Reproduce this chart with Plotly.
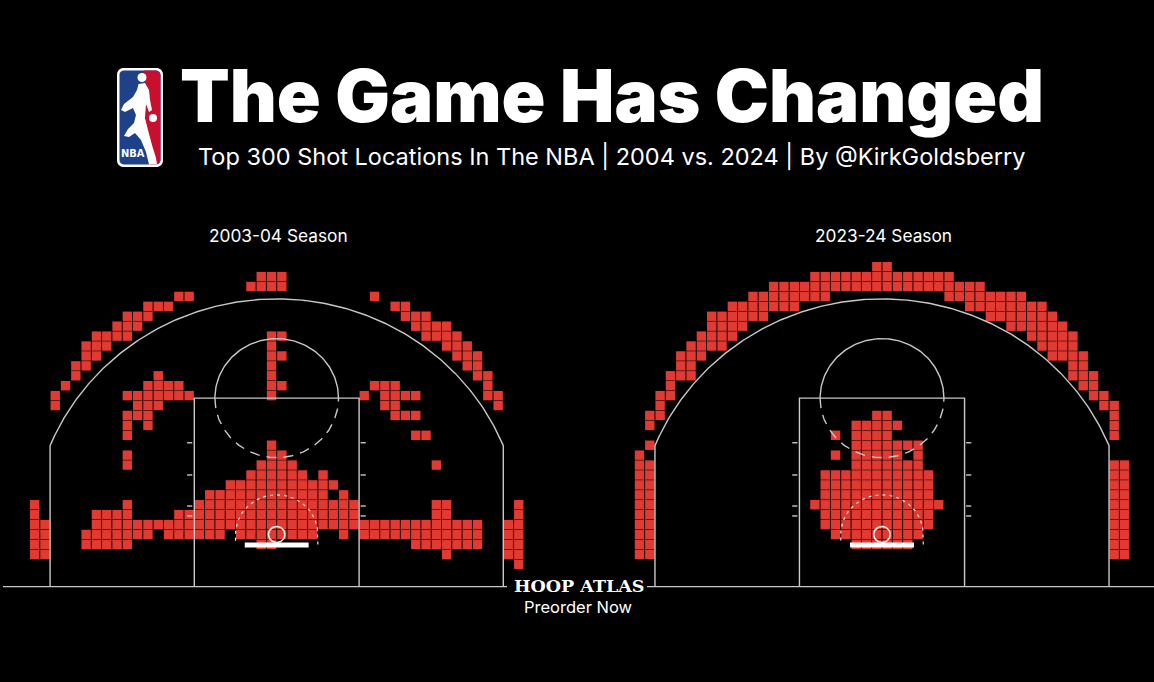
import numpy as np
import plotly.graph_objects as go

W, H = 1154, 682

title_text = "The Game Has Changed"
subtitle_text = "Top 300 Shot Locations In The NBA | 2004 vs. 2024 | By @KirkGoldsberry"
season_labels = ["2003-04 Season", "2023-24 Season"]

# Shot-location bins, 1 ft squares.  Each run: (row ft from hoop, first column bin, last column bin);
# column bin m spans [m, m+1] ft from the hoop (left negative).
runs_2004 = [
    (26, -2, 0), (25, -3, 0),
    (24, -10, -9), (23, -13, -11), (22, -15, -13), (21, -16, -14), (20, -18, -15),
    (19, -19, -17), (18, -19, -18), (17, -20, -19), (16, -20, -20), (15, -21, -21),
    (14, -22, -22), (13, -22, -22),
    (24, 9, 9), (23, 11, 12), (22, 12, 14), (21, 13, 16), (20, 14, 17), (19, 16, 18),
    (18, 17, 19), (17, 18, 19), (16, 19, 20), (15, 20, 20), (14, 20, 21), (13, 21, 21),
    (20, -1, 0), (19, -1, -1), (18, -1, 0), (17, -1, -1), (16, -1, -1), (15, -1, 0), (14, -1, -1),
    (16, -12, -12), (15, -13, -10), (14, -15, -9), (13, -14, -12), (12, -15, -13),
    (11, -15, -15), (11, -13, -13), (10, -15, -15), (8, -15, -15), (7, -15, -15),
    (15, 9, 11), (14, 8, 8), (14, 10, 13), (13, 10, 11), (12, 11, 13), (10, 13, 14), (7, 15, 15),
    (3, -24, -24), (2, -24, -24), (1, -24, -23), (0, -24, -23), (-1, -24, -23), (-2, -24, -23),
    (3, 23, 23), (2, 23, 23), (1, 22, 23), (0, 22, 23), (-1, 22, 23), (-2, 22, 23), (-3, 23, 23),
    (9, -1, -1), (8, -1, 0), (7, -2, 1), (6, -3, 2), (6, 4, 4), (5, -5, 5),
    (4, -7, 4), (4, 6, 6),
    (3, -15, -15), (3, -8, 7), (3, 15, 16),
    (2, -18, -15), (2, -10, 7), (2, 15, 16),
    (1, -18, 19),
    (0, -19, -13), (0, -11, -6), (0, -4, 3), (0, 6, 6), (0, 8, 19),
    (-1, -19, -15), (-1, -2, -1), (-1, 13, 19),
    (-2, 16, 16),
]

runs_2024 = [
    (27, -1, 0), (26, -7, 6), (25, -11, 9),
    (24, -13, -6), (24, 6, 13), (23, -15, -9), (23, 8, 15),
    (22, -17, -12), (22, 10, 16), (21, -17, -14), (21, 12, 17),
    (20, -18, -15), (20, 14, 18), (19, -19, -16), (19, 15, 18),
    (18, -20, -18), (18, 16, 19), (17, -20, -19), (17, 18, 19),
    (16, -21, -19), (16, 18, 20), (15, -21, -21), (15, 19, 20),
    (14, -22, -21), (14, 20, 21), (13, -22, -22), (13, 21, 22),
    (12, -23, -22), (12, 22, 22), (11, -23, -23), (11, 22, 22),
    (10, 22, 22), (9, -23, -23), (8, -24, -24),
    (7, -24, -23), (6, -24, -23), (5, -24, -23), (4, -24, -23), (3, -24, -23),
    (2, -24, -23), (1, -24, -23), (0, -24, -23), (-1, -24, -23), (-2, -24, -23),
    (7, 22, 23), (6, 22, 23), (5, 22, 23), (4, 22, 23), (3, 22, 23),
    (2, 22, 23), (1, 22, 23), (0, 22, 23), (-1, 22, 23), (-2, 22, 23),
    (12, -1, 0), (11, -3, 1), (10, -5, -5), (10, -3, 0), (9, -3, 3),
    (8, -5, -5), (8, -3, 1), (8, 3, 3), (7, -3, 3),
    (6, -6, 4), (5, -6, 4), (4, -6, 4), (3, -7, 5), (2, -6, 4), (1, -6, 4),
    (0, -5, 3), (-1, -3, 2),
]


def expand(runs):
    xs, ys = [], []
    for n, a, b in runs:
        for m in range(a, b + 1):
            xs.append(m + 0.5)
            ys.append(n)
    return xs, ys


CELL = "#e03a33"
LINE = "#c8c8c8"
BASE_Y = -5.25

# pixel mapping of the two courts
HOOP_PX = [276.7, 882.0]
SX = [10.3, 10.32]
HOOP_PY, SY = 534.5, 9.92

fig = go.Figure()


def court(xa, x_left, x_right):
    tr = []
    kw = dict(xaxis=xa, yaxis="y", mode="lines", hoverinfo="skip", showlegend=False)
    yc = np.sqrt(23.75 ** 2 - 22 ** 2)
    th0 = np.arctan2(yc, 22)
    th = np.linspace(th0, np.pi - th0, 240)
    ax = [22, 22] + list(23.75 * np.cos(th)) + [-22, -22]
    ay = [BASE_Y, yc] + list(23.75 * np.sin(th)) + [yc, BASE_Y]
    tr.append(go.Scatter(x=ax, y=ay, line=dict(color=LINE, width=1.4), **kw))
    tr.append(go.Scatter(x=[-8, -8, 8, 8], y=[BASE_Y, 13.75, 13.75, BASE_Y],
                         line=dict(color=LINE, width=1.4), **kw))
    t = np.linspace(0, np.pi, 120)
    tr.append(go.Scatter(x=6 * np.cos(t), y=13.75 + 6 * np.sin(t),
                         line=dict(color=LINE, width=1.4), **kw))
    t2 = np.linspace(np.pi, 2 * np.pi, 120)
    tr.append(go.Scatter(x=6 * np.cos(t2), y=13.75 + 6 * np.sin(t2),
                         line=dict(color=LINE, width=1.4, dash="10px,7px"), **kw))
    t3 = np.linspace(0, np.pi, 80)
    rx = [4, 4] + list(4 * np.cos(t3)) + [-4, -4]
    ry = [-1.0, 0] + list(4 * np.sin(t3)) + [0, -1.0]
    tr.append(go.Scatter(x=rx, y=ry, line=dict(color="#e8e8e8", width=1.2, dash="3px,4px"), **kw))
    tx, ty = [], []
    for yy in [9.25, 6.0, 2.87, 1.87]:
        tx += [-8.7, -8.2, None, 8.15, 8.65, None]
        ty += [yy, yy, None, yy, yy, None]
    tr.append(go.Scatter(x=tx, y=ty, line=dict(color=LINE, width=1.4), **kw))
    t4 = np.linspace(0, 2 * np.pi, 60)
    tr.append(go.Scatter(x=0.8 * np.cos(t4), y=0.8 * np.sin(t4),
                         line=dict(color="#f0f0f0", width=1.6), **kw))
    tr.append(go.Scatter(x=[0, 0], y=[-0.8, -1.05], line=dict(color="#f0f0f0", width=1.6), **kw))
    tr.append(go.Scatter(x=[-3.1, 3.1], y=[-1.05, -1.05], line=dict(color="white", width=5), **kw))
    tr.append(go.Scatter(x=[x_left, x_right], y=[BASE_Y, BASE_Y],
                         line=dict(color=LINE, width=1.4), **kw))
    return tr


for i, (runs, xa) in enumerate([(runs_2004, "x"), (runs_2024, "x2")]):
    xs, ys = expand(runs)
    fig.add_trace(go.Scatter(x=xs, y=ys, xaxis=xa, yaxis="y", mode="markers",
                             marker=dict(symbol="square", size=9.4, color=CELL, line=dict(width=0)),
                             hoverinfo="skip", showlegend=False))

fig.add_traces(court("x", (3 - HOOP_PX[0]) / SX[0], (507 - HOOP_PX[0]) / SX[0]))
fig.add_traces(court("x2", (647 - HOOP_PX[1]) / SX[1], (1154 - HOOP_PX[1]) / SX[1]))

split = 577
fig.update_layout(
    width=W, height=H, autosize=False,
    margin=dict(l=0, r=0, t=0, b=0, pad=0),
    paper_bgcolor="black", plot_bgcolor="rgba(0,0,0,0)",
    xaxis=dict(domain=[0, split / W], range=[(0 - HOOP_PX[0]) / SX[0], (split - HOOP_PX[0]) / SX[0]],
               visible=False, fixedrange=True),
    xaxis2=dict(domain=[split / W, 1], range=[(split - HOOP_PX[1]) / SX[1], (W - HOOP_PX[1]) / SX[1]],
                anchor="y", visible=False, fixedrange=True),
    yaxis=dict(domain=[0, 1], range=[(HOOP_PY - H) / SY, HOOP_PY / SY], visible=False, fixedrange=True),
)


def px(x):
    return x / W


def py(y):
    return 1 - y / H


def ann(text, x, y, size, family="Inter", weight="normal", color="white", xanchor="center", pad=1):
    fig.add_annotation(text=text, x=px(x), y=py(y), xref="paper", yref="paper",
                       showarrow=False, xanchor=xanchor, yanchor="middle", borderpad=pad,
                       font=dict(family=family, size=size, color=color, weight=weight))


ann(title_text, 612, 96, 72.5, weight=900)
ann(subtitle_text, 611.5, 156, 23.5)
ann(season_labels[0], 278.5, 235, 17.3)
ann(season_labels[1], 883, 235, 17.3)
ann("HOOP ATLAS", 579, 585.5, 17.5, family="DejaVu Serif", weight="bold", pad=0)
ann("Preorder Now", 578, 607, 16.5, pad=0)

# NBA logo
def path(points):
    s = "M " + " L ".join(f"{px(a):.5f},{py(b):.5f}" for a, b in points) + " Z"
    return s


def rrect(x0, y0, x1, y1, r):
    pts = []
    for cx, cy, a0 in [(x1 - r, y0 + r, -90), (x1 - r, y1 - r, 0), (x0 + r, y1 - r, 90), (x0 + r, y0 + r, 180)]:
        for a in np.linspace(np.radians(a0), np.radians(a0 + 90), 6):
            pts.append((cx + r * np.cos(a), cy + r * np.sin(a)))
    return path(pts)


shape_kw = dict(xref="paper", yref="paper", line=dict(width=0), layer="above")
fig.add_shape(type="path", path=rrect(117, 68, 163, 167, 6.5), fillcolor="white", **shape_kw)
fig.add_shape(type="path", path=rrect(119.5, 70.5, 160.5, 164.5, 4.5), fillcolor="#1d428a", **shape_kw)
fig.add_shape(type="path", path=path([(144, 70.5), (156.5, 70.5), (160.5, 74.5), (160.5, 160.5),
                                        (156.5, 164.5), (150, 164.5), (146, 130), (146, 95)]),
              fillcolor="#c8102e", **shape_kw)
silhouette = [(138.5, 84), (145, 83), (149, 90), (150, 100), (152, 110), (149, 112), (146, 104),
              (145, 118), (148, 130), (152, 145), (156, 158), (157, 164.5), (149, 164.5), (146, 152),
              (141, 140), (135, 133), (129, 137), (124, 136), (128, 129), (134, 123), (136, 115),
              (133, 108), (125, 112), (121, 110), (124, 104), (133, 97), (137, 90)]
fig.add_shape(type="path", path=path(silhouette), fillcolor="white", **shape_kw)
fig.add_shape(type="circle", x0=px(137.5), x1=px(146.5), y0=py(73), y1=py(82), fillcolor="white", **shape_kw)
fig.add_shape(type="circle", x0=px(149), x1=px(157), y0=py(114), y1=py(122), fillcolor="white", **shape_kw)
ann("NBA", 132.5, 153.5, 11, family="DejaVu Sans Condensed", weight="bold")

fig.write_html("out.html")
